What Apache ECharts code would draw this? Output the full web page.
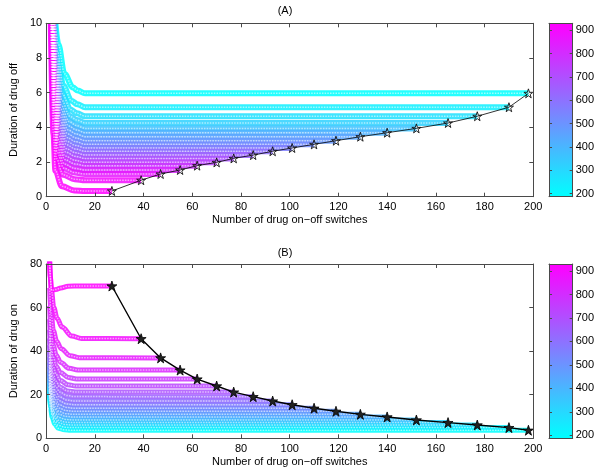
<!DOCTYPE html>
<html><head><meta charset="utf-8">
<script src="https://cdn.jsdelivr.net/npm/echarts@6/dist/echarts.min.js"></script>
<style>html,body{margin:0;padding:0;background:#fff}#c{width:600px;height:474px}</style>
</head><body><div id="c"></div>
<script>
// ---- data ----
const switchesEnd = [27,39,47,55,62,70,77,85,93,101,110,119,129,140,152,165,177,190,198];
const offOptimal = [0.33,0.95,1.31,1.54,1.79,1.98,2.21,2.40,2.62,2.81,3.02,3.23,3.46,3.69,3.94,4.25,4.64,5.16,5.96];
const onOptimal = [69.9,45.7,36.9,31.3,27.2,24.0,21.2,19.1,17.1,15.4,13.8,12.4,11.0,9.8,8.4,7.2,6.1,4.9,3.7];
const curveValue = [930,895,858,820,776,731,686,641,604,560,522,485,448,411,366,321,276,232,187];
const colorMin = 187, colorMax = 930;
const colorTicks = [200,300,400,500,600,700,800,900];
const xTickStep = 20, offTickStep = 2, onTickStep = 20;
// steep left parts of each curve (panel A: duration off)
const offHeads = [
 [[1.9,10],[3.0,3.62],[3.8,1.49],[6.5,0.60],[11.5,0.36],[16,0.33]],
 [[2.11,10],[3.22,4.39],[4.21,2.20],[7.0,1.26],[11.7,1.01],[16,0.95]],
 [[2.22,10],[3.34,4.79],[4.43,2.59],[7.27,1.64],[11.8,1.39],[16,1.31]],
 [[2.30,10],[3.42,5.06],[4.58,2.84],[7.45,1.88],[11.8,1.63],[16,1.54]],
 [[2.39,10],[3.52,5.35],[4.76,3.12],[7.67,2.14],[11.9,1.89],[16,1.79]],
 [[2.45,10],[3.58,5.54],[4.87,3.31],[7.81,2.34],[11.9,2.09],[16,1.98]],
 [[2.53,10],[3.66,5.79],[5.02,3.56],[7.99,2.58],[12.0,2.33],[16,2.21]],
 [[2.60,10],[3.74,5.99],[5.17,3.76],[8.17,2.77],[12.1,2.53],[16,2.40]],
 [[2.68,10],[3.82,6.22],[5.32,3.99],[8.35,3.00],[12.1,2.75],[16,2.62]],
 [[2.74,10],[3.88,6.39],[5.43,4.18],[8.48,3.19],[12.2,2.95],[16,2.81]],
 [[2.81,10],[3.96,6.60],[5.58,4.39],[8.66,3.40],[12.2,3.17],[16,3.02]],
 [[2.89,10],[4.04,6.80],[5.72,4.60],[8.84,3.62],[12.3,3.38],[16,3.23]],
 [[2.96,10],[4.12,7.00],[5.87,4.83],[9.02,3.85],[12.3,3.62],[16,3.46]],
 [[3.04,10],[4.20,7.20],[6.02,5.05],[9.20,4.08],[12.4,3.85],[16,3.69]],
 [[3.12,10],[4.28,7.39],[6.17,5.29],[9.38,4.33],[12.5,4.10],[16,3.94]],
 [[3.23,10],[4.40,7.65],[6.39,5.58],[9.65,4.64],[12.6,4.42],[16,4.25]],
 [[3.36,10],[4.54,7.95],[6.65,5.94],[9.97,5.03],[12.7,4.81],[16,4.64]],
 [[3.53,10],[4.72,8.31],[6.98,6.41],[10.4,5.53],[12.8,5.33],[16,5.16]],
 [[3.80,10],[5.0,8.79],[7.5,7.09],[11.0,6.30],[13.0,6.12],[16,5.96]]
];
// steep left parts of each curve (panel B: duration on)
const onHeads = [
 [[1.2,86],[1.7,74],[2.2,67.9],[4,68.3],[6,69],[9,69.8],[14,69.9]],
 [[1.5,82],[2.2,67.8],[3.1,60.2],[4.5,55.1],[6.5,51.1],[10.5,47.0],[14.5,45.8]],
 [[1.46,69.0],[2.12,56.6],[2.97,49.5],[4.29,44.6],[6.19,41.1],[9.87,37.9],[13.6,37.0]],
 [[1.43,60.8],[2.06,49.5],[2.90,42.7],[4.16,38.1],[5.99,34.8],[9.48,32.1],[13.0,31.4]],
 [[1.41,54.7],[2.02,44.2],[2.84,37.7],[4.06,33.2],[5.84,30.2],[9.18,27.9],[12.5,27.25]],
 [[1.40,49.9],[1.99,40.1],[2.79,33.8],[3.98,29.5],[5.72,26.6],[8.94,24.6],[12.2,24.04]],
 [[1.38,45.9],[1.97,36.6],[2.75,30.5],[3.92,26.3],[5.63,23.5],[8.76,21.7],[11.9,21.23]],
 [[1.37,42.8],[1.95,33.9],[2.72,28.0],[3.87,23.9],[5.56,21.2],[8.61,19.6],[11.7,19.13]],
 [[1.36,39.8],[1.93,31.3],[2.69,25.6],[3.82,21.6],[5.48,19.0],[8.46,17.55],[11.4,17.12]],
 [[1.36,37.3],[1.91,29.1],[2.67,23.5],[3.78,19.7],[5.42,17.2],[8.34,15.8],[11.3,15.42]],
 [[1.35,34.9],[1.90,27.0],[2.64,21.6],[3.74,17.85],[5.36,15.45],[8.22,14.18],[11.1,13.82]],
 [[1.34,32.9],[1.88,25.2],[2.63,19.9],[3.71,16.3],[5.32,13.9],[8.13,12.75],[11.0,12.41]],
 [[1.33,30.7],[1.87,23.35],[2.60,18.2],[3.67,14.6],[5.26,12.4],[8.01,11.3],[10.8,11.01]],
 [[1.33,29.1],[1.86,21.9],[2.59,16.9],[3.65,13.35],[5.23,11.1],[7.95,10.1],[10.7,9.81]],
 [[1.32,26.9],[1.84,20.0],[2.57,15.1],[3.61,11.7],[5.17,9.6],[7.83,8.68],[10.5,8.41]],
 [[1.32,25.1],[1.83,18.4],[2.55,13.7],[3.58,10.4],[5.12,8.33],[7.74,7.45],[10.4,7.2]],
 [[1.31,23.6],[1.82,17.1],[2.54,12.4],[3.56,9.16],[5.09,7.17],[7.68,6.34],[10.3,6.1]],
 [[1.31,21.8],[1.81,15.5],[2.52,11.0],[3.53,7.8],[5.05,5.88],[7.59,5.11],[10.1,4.9]],
 [[1.3,20.0],[1.8,14.0],[2.5,9.6],[3.5,6.5],[5.0,4.6],[7.5,3.9],[10,3.7]]
];

// ---- rendering ----
const FONT = 'Liberation Sans, Arial, Helvetica, sans-serif';
const AX = '#4a4a4a';
const STAR = 'path://M50,0 L61.8,35.1 L97.6,35.1 L68.5,56.7 L79.4,91 L50,70 L20.6,91 L31.5,56.7 L2.4,35.1 L38.2,35.1 Z';

function coolColor(v, a) {
  const t = Math.max(0, Math.min(1, (v - colorMin) / (colorMax - colorMin)));
  const r = Math.round(255 * t), g = Math.round(255 * (1 - t));
  return a == null ? `rgb(${r},${g},255)` : `rgba(${r},${g},255,${a})`;
}

const lbl = {color:'#000', fontSize:11, fontFamily:FONT};
function axisBase(extra) {
  return Object.assign({
    type:'value', z:10,
    axisLine:{show:true, onZero:false, lineStyle:{color:AX, width:1}},
    axisTick:{show:true, inside:true, length:4, lineStyle:{color:AX}},
    splitLine:{show:false}
  }, extra);
}

const G = [
  {left:37.3, top:23.3, width:496, height:173.4},
  {left:37.3, top:264, width:496, height:174.3},
  {left:549, top:23.3, width:23.7, height:173.4},
  {left:549, top:264, width:23.7, height:174.3}
];

const xAxis = [];
const yAxis = [];
[0,1].forEach(g => {
  xAxis.push(axisBase({gridIndex:g, position:'bottom', min:0, max:200, interval:xTickStep,
    axisLabel:Object.assign({margin:5}, lbl),
    name:'Number of drug on\u2212off switches', nameLocation:'middle', nameGap:18, nameTextStyle:lbl}));
  xAxis.push(axisBase({gridIndex:g, position:'top', min:0, max:200, interval:xTickStep, axisLabel:{show:false}}));
});
[2,3].forEach(g => {
  xAxis.push(axisBase({gridIndex:g, position:'bottom', min:0, max:1, axisTick:{show:false}, axisLabel:{show:false}}));
  xAxis.push(axisBase({gridIndex:g, position:'top', min:0, max:1, axisTick:{show:false}, axisLabel:{show:false}}));
});
yAxis.push(axisBase({gridIndex:0, position:'left', min:0, max:10, interval:offTickStep,
  axisLabel:Object.assign({margin:4}, lbl), name:'Duration of drug off', nameLocation:'middle', nameGap:20, nameTextStyle:lbl}));
yAxis.push(axisBase({gridIndex:0, position:'right', min:0, max:10, interval:offTickStep, axisLabel:{show:false}}));
yAxis.push(axisBase({gridIndex:1, position:'left', min:0, max:80, interval:onTickStep,
  axisLabel:Object.assign({margin:4}, lbl), name:'Duration of drug on', nameLocation:'middle', nameGap:20, nameTextStyle:lbl}));
yAxis.push(axisBase({gridIndex:1, position:'right', min:0, max:80, interval:onTickStep, axisLabel:{show:false}}));
[2,3].forEach(g => {
  yAxis.push(axisBase({gridIndex:g, position:'left', min:colorMin, max:colorMax,
    axisTick:{show:true, inside:true, length:3, customValues:colorTicks, lineStyle:{color:AX}},
    axisLabel:{show:false}}));
  yAxis.push(axisBase({gridIndex:g, position:'right', min:colorMin, max:colorMax,
    axisTick:{show:true, inside:true, length:3, customValues:colorTicks, lineStyle:{color:AX}},
    axisLabel:Object.assign({customValues:colorTicks, margin:3}, lbl)}));
});

const series = [];
function addCurves(heads, levels, xi, yi, width, holeDash) {
  for (let i = heads.length - 1; i >= 0; i--) {
    const data = heads[i].concat([[switchesEnd[i], levels[i]]]);
    series.push({type:'line', xAxisIndex:xi, yAxisIndex:yi, silent:true, symbol:'none',
      smooth:0.35, smoothMonotone:'x', z:2, data,
      lineStyle:{color:coolColor(curveValue[i]), width:width, opacity:0.85}});
    // hollow-marker look: light dotted centre
    series.push({type:'line', xAxisIndex:xi, yAxisIndex:yi, silent:true, symbol:'none',
      smooth:0.35, smoothMonotone:'x', z:3, data,
      lineStyle:{color:'rgba(255,255,255,0.55)', width:1.5, type:holeDash}});
  }
}
addCurves(offHeads, offOptimal, 0, 0, 6, [1.5, 1.2]);
addCurves(onHeads, onOptimal, 2, 2, 5, [1.5, 1.2]);

// optimal-point lines with stars
series.push({type:'line', xAxisIndex:0, yAxisIndex:0, silent:true, z:5,
  data: switchesEnd.map((x,i)=>[x, offOptimal[i]]),
  symbol:STAR, symbolSize:9, showAllSymbol:true,
  lineStyle:{color:'#000', width:0.8},
  itemStyle:{color:'rgba(0,0,0,0)', borderColor:'#111', borderWidth:0.9}});
series.push({type:'line', xAxisIndex:2, yAxisIndex:2, silent:true, z:5,
  data: switchesEnd.map((x,i)=>[x, onOptimal[i]]),
  symbol:STAR, symbolSize:10, showAllSymbol:true,
  lineStyle:{color:'#000', width:1.4},
  itemStyle:{color:'#222', borderColor:'#000', borderWidth:0.8}});
// colorbars
[[4,5],[6,7]].forEach(([xi, yi]) => {
  series.push({type:'custom', xAxisIndex:xi, yAxisIndex:yi, silent:true, z:1,
    data:[[0, colorMin, colorMax]],
    renderItem:(params, api) => {
      const a = api.coord([0, api.value(1)]);
      const b = api.coord([1, api.value(2)]);
      return {type:'rect', shape:{x:a[0], y:b[1], width:b[0]-a[0], height:a[1]-b[1]},
        style:{fill:new echarts.graphic.LinearGradient(0,1,0,0,[
          {offset:0, color:coolColor(colorMin)}, {offset:1, color:coolColor(colorMax)}])}};
    }});
});

const chart = echarts.init(document.getElementById('c'), null, {renderer:'canvas'});
chart.setOption({
  animation:false,
  backgroundColor:'#fff',
  grid:G, xAxis, yAxis, series,
  graphic:[
    {type:'text', x:285, y:11, style:{text:'(A)', font:'11px ' + FONT, fill:'#000', textAlign:'center', textVerticalAlign:'middle'}},
    {type:'text', x:285, y:252.5, style:{text:'(B)', font:'11px ' + FONT, fill:'#000', textAlign:'center', textVerticalAlign:'middle'}}
  ]
});
</script></body></html>
